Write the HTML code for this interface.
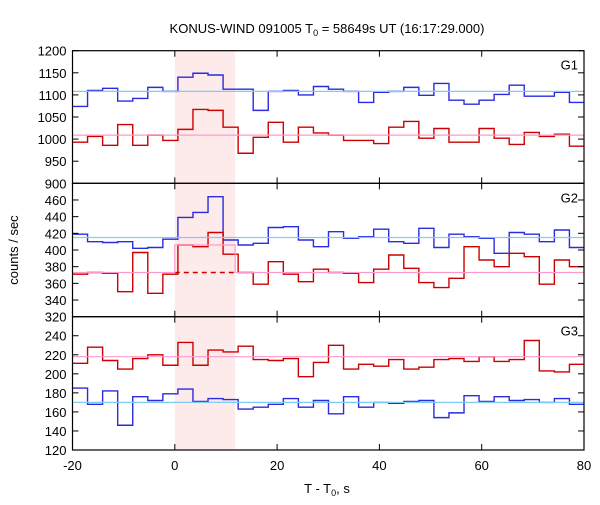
<!DOCTYPE html>
<html><head><meta charset="utf-8"><style>
body{margin:0;background:#fff;}
svg text{font-family:"Liberation Sans","DejaVu Sans",sans-serif;font-size:13px;fill:#000;}
</style></head><body>
<svg id="chart" width="600" height="500" viewBox="0 0 600 500" xmlns="http://www.w3.org/2000/svg">
<text x="327" y="33" text-anchor="middle">KONUS-WIND 091005 T<tspan font-size="9" dy="3">0</tspan><tspan dy="-3"> = 58649s UT (16:17:29.000)</tspan></text>
<text transform="translate(18,250) rotate(-90)" text-anchor="middle">counts / sec</text>
<text x="327" y="493" text-anchor="middle">T - T<tspan font-size="9" dy="3">0</tspan><tspan dy="-3">, s</tspan></text>
<g id="layer"></g>
</svg>
<script>
const binStart = -20, binWidth = 2.944;
const g1Blue = [1074,1110,1115,1086,1092,1117,1108,1140,1149,1145,1113,1113,1065,1108,1110,1100,1119,1113,1108,1083,1106,1108,1117,1099,1126,1088,1079,1088,1101,1122,1097,1097,1106,1083];
const g1Red = [993,1006,986,1033,986,1009,997,1022,1067,1065,1027,968,1004,1038,993,1027,1014,1009,997,997,990,1027,1040,1002,1024,993,993,1024,1002,988,1015,1006,1011,984];
const g2Blue = [419,410,409,410,402,403,413,439,445,464,412,406,408,427,428,412,404,422,414,416,425,410,408,426,403,419,416,414,396,421,419,410,424,403];
const g2Red = [371,373,372,350,397,348,371,406,404,421,395,373,359,386,371,362,377,373,372,361,377,394,378,361,355,366,404,388,380,396,392,359,388,380];
const g3Red = [211,228,214,205,216,220,209,233,209,225,223,229,215,214,216,197,212,230,205,210,208,215,205,207,215,216,213,218,213,215,235,203,202,210];
const g3Blue = [185,168,182,146,176,172,179,184,171,174,173,163,165,168,174,165,172,158,176,165,170,169,171,172,154,159,177,171,176,172,173,170,174,168];
const bgBlue = [1108,415,170];
const bgRed = [1009,373,218];
const g2Excess = 406;
const interval = [0, 11.8];
const xTicks = [-20,0,20,40,60,80];
const g1Ticks = [1200,1150,1100,1050,1000,950,900];
const g2Ticks = [460,440,420,400,380,360,340,320];
const g3Ticks = [240,220,200,180,160,140,120];

const NS="http://www.w3.org/2000/svg";
const layer=document.getElementById('layer');
const X0=72.5, X1=584;
function xs(t){return X0+(t+20)*(X1-X0)/100;}
const panels=[
 {top:50.7,bot:183.3,min:900,max:1200,ticks:g1Ticks,label:'G1',blue:g1Blue,red:g1Red},
 {top:183.3,bot:316.7,min:320,max:480,ticks:g2Ticks,label:'G2',blue:g2Blue,red:g2Red},
 {top:316.7,bot:450,min:120,max:260,ticks:g3Ticks,label:'G3',blue:g3Blue,red:g3Red}];
function mk(tag,attrs){const e=document.createElementNS(NS,tag);for(const k in attrs)e.setAttribute(k,attrs[k]);layer.appendChild(e);return e;}
// shading
const sh=mk('rect',{x:xs(interval[0]),y:50.7,width:xs(interval[1])-xs(interval[0]),height:399.3,fill:'#fdeaea'});


function stepPath(vals,ys){let d='';vals.forEach((v,i)=>{const xa=xs(binStart+i*binWidth),xb=xs(binStart+(i+1)*binWidth),y=ys(v);d+=(i===0?'M':'L')+xa+','+y+'L'+Math.min(xb,X1)+','+y;});return d;}
panels.forEach((p,pi)=>{
 const ys=v=>p.bot-(v-p.min)*(p.bot-p.top)/(p.max-p.min);
 const b=mk('path',{d:stepPath(p.blue,ys),fill:'none',stroke:'#2b2bdf','stroke-width':1.4});
 
 
 const r=mk('path',{d:stepPath(p.red,ys),fill:'none',stroke:'#cc0000','stroke-width':1.4});
 
 
 const lb=mk('line',{x1:X0,x2:X1,y1:ys(bgBlue[pi]),y2:ys(bgBlue[pi]),stroke:'#7fcdf5','stroke-width':1.2});
 
 
 if(pi===1){
  const dd=mk('line',{x1:xs(interval[0]),x2:xs(interval[1]),y1:ys(bgRed[pi]),y2:ys(bgRed[pi]),stroke:'#cc0000','stroke-width':1.4,'stroke-dasharray':'5,4'});
  
  
  const a=xs(interval[0]),c=xs(interval[1]),yb=ys(bgRed[pi]),ye=ys(g2Excess);
  const pk=mk('path',{d:`M${X0},${yb}L${a},${yb}L${a},${ye}L${c},${ye}L${c},${yb}L${X1},${yb}`,fill:'none',stroke:'#ff99cc','stroke-width':1.2});
  
  
 } else {
  const lr=mk('line',{x1:X0,x2:X1,y1:ys(bgRed[pi]),y2:ys(bgRed[pi]),stroke:'#ff99cc','stroke-width':1.2});
  
  
 }
 const fr=mk('rect',{x:X0,y:p.top,width:X1-X0,height:p.bot-p.top,fill:'none',stroke:'#000','stroke-width':1.2});
 
 
 p.ticks.forEach(v=>{
  const y=ys(v);
  mk('line',{x1:X0,x2:X0+6,y1:y,y2:y,stroke:'#000'});
  mk('line',{x1:X1-6,x2:X1,y1:y,y2:y,stroke:'#000'});
  const t=mk('text',{x:X0-6,y:y+5,'text-anchor':'end'});t.textContent=v;
  
  
 });
 xTicks.forEach(v=>{const x=xs(v);
  mk('line',{x1:x,x2:x,y1:p.top,y2:p.top+6,stroke:'#000'});
  mk('line',{x1:x,x2:x,y1:p.bot-6,y2:p.bot,stroke:'#000'});});
 const gl=mk('text',{x:578,y:p.top+19,'text-anchor':'end'});gl.textContent=p.label;
 
 
});
xTicks.forEach(v=>{const t=mk('text',{x:xs(v),y:470,'text-anchor':'middle'});t.textContent=v;
 
 });
</script>
</body></html>
